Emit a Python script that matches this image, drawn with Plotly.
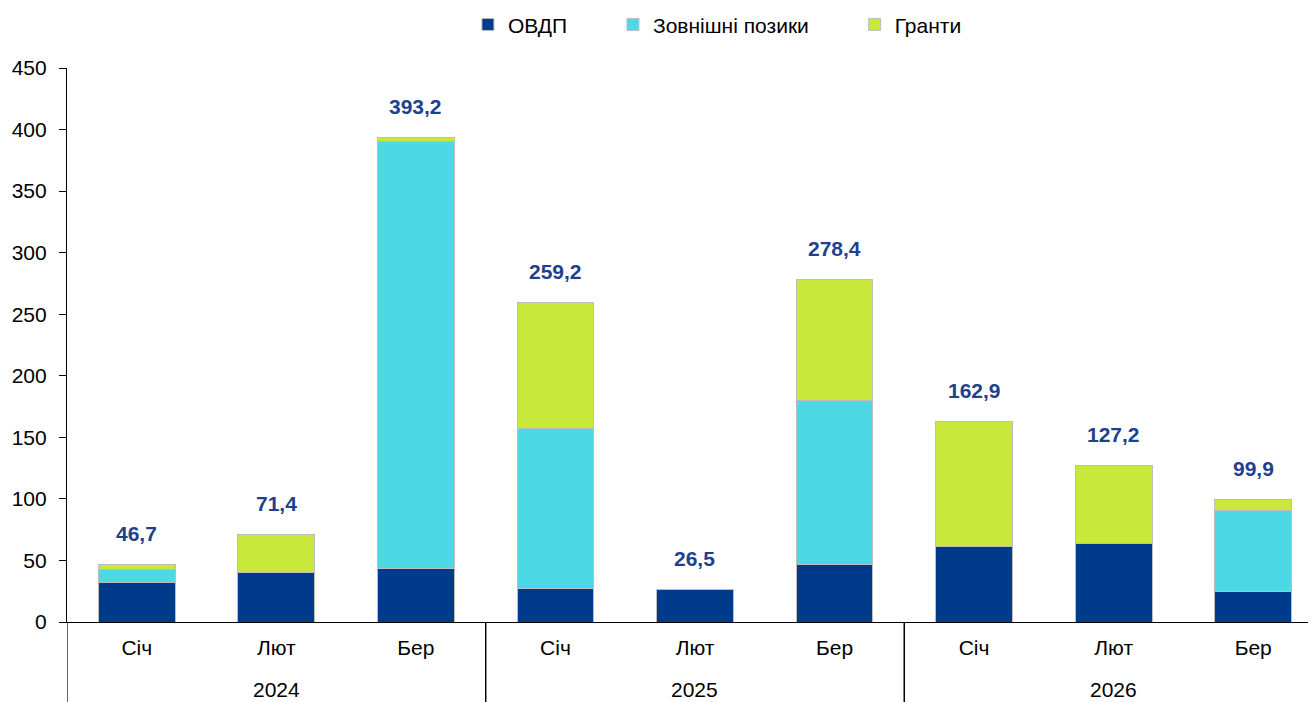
import plotly.graph_objects as go

years = ["2024", "2024", "2024", "2025", "2025", "2025", "2026", "2026", "2026"]
months = ["Січ", "Лют", "Бер", "Січ", "Лют", "Бер", "Січ", "Лют", "Бер"]
ovdp = [32.0, 40.0, 43.6, 27.0, 26.5, 46.5, 61.2, 63.9, 24.9]
external = [11.0, 0.0, 346.5, 130.0, 0.0, 133.5, 0.0, 0.0, 65.8]
grants = [3.7, 31.4, 3.1, 102.2, 0.0, 98.4, 101.7, 63.3, 9.2]
totals = [46.7, 71.4, 393.2, 259.2, 26.5, 278.4, 162.9, 127.2, 99.9]
series_names = ["ОВДП", "Зовнішні позики", "Гранти"]
colors = ["#003A8A", "#4DD8E6", "#C8E83C"]
yticks = [0, 50, 100, 150, 200, 250, 300, 350, 400, 450]

FONT = "Liberation Sans, Arial, sans-serif"
cats = [f"{m} {y}" for m, y in zip(months, years)]
PAD = "\u00a0" * 7

fig = go.Figure()
for name, vals, col in zip(series_names, [ovdp, external, grants], colors):
    fig.add_trace(go.Bar(
        x=cats, y=vals, name=name + (PAD if name != series_names[-1] else ""),
        marker=dict(color=col, line=dict(color="#BDBDBD", width=1)),
    ))

for c, t in zip(cats, totals):
    fig.add_annotation(
        x=c, y=t, xref="x", yref="y", text="<b>" + f"{t:.1f}".replace(".", ",") + "</b>",
        showarrow=False, yshift=31, font=dict(family=FONT, size=21, color="#1F3F8F"),
    )

# year group labels and dividers
groups = []
for i, yv in enumerate(years):
    if not groups or groups[-1][0] != yv:
        groups.append([yv, i, i])
    else:
        groups[-1][2] = i
for yv, i0, i1 in groups:
    fig.add_annotation(
        x=(i0 + i1) / 2, xref="x", y=-0.121, yref="paper", text=yv, showarrow=False,
        yanchor="middle", font=dict(family=FONT, size=21, color="#000000"),
    )
    for b in (i0 - 0.5, i1 + 0.5):
        fig.add_shape(type="line", xref="x", yref="paper", x0=b, x1=b, y0=0, y1=-0.145,
                      line=dict(color="#000000", width=1.2))

fig.update_layout(
    width=1308, height=694,
    barmode="stack", bargap=0.45,
    plot_bgcolor="white", paper_bgcolor="white",
    margin=dict(l=59, r=0, t=60, b=80, autoexpand=False),
    font=dict(family=FONT, size=20, color="#000000"),
    showlegend=True,
    legend=dict(orientation="h", x=0.321, xanchor="left", y=1.078, yanchor="middle",
                font=dict(family=FONT, size=21, color="#000000"), traceorder="normal"),
)
fig.update_xaxes(
    type="category", tickvals=cats, ticktext=months, range=[-0.5, len(cats) - 0.55],
    showline=True, linecolor="#000000", linewidth=1.2, automargin=False,
    ticks="", ticklabelstandoff=7, showgrid=False,
    tickfont=dict(family=FONT, size=21, color="#000000"),
)
fig.update_yaxes(
    range=[0, 450], tickvals=yticks, showline=True, linecolor="#000000", linewidth=1.2,
    ticks="outside", ticklen=7, tickcolor="#000000", showgrid=False, zeroline=False,
    ticklabelstandoff=8, automargin=False,
    tickfont=dict(family=FONT, size=21, color="#000000"),
)
fig.write_html("out.html")
